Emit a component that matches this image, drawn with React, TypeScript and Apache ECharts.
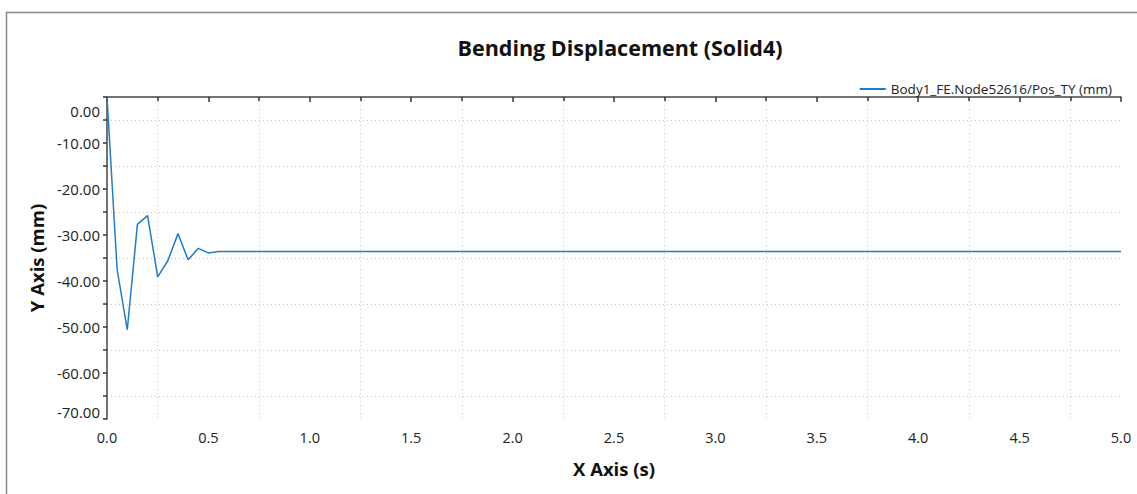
import React, { useEffect, useRef } from "react";
import * as echarts from "echarts";

const titleText = "Bending Displacement (Solid4)";
const seriesName = "Body1_FE.Node52616/Pos_TY (mm)";
const xAxisName = "X Axis (s)";
const yAxisName = "Y Axis (mm)";

// time (s) and displacement (mm); the signal stays flat after 0.55 s
const timeValues = [0, 0.05, 0.1, 0.15, 0.2, 0.25, 0.3, 0.35, 0.4, 0.45, 0.5, 0.55, 0.6, 5.0];
const dispValues = [0, -37.5, -50.6, -27.7, -25.8, -39.1, -35.6, -29.7, -35.4, -32.9, -33.9, -33.6, -33.6, -33.6];

const xMin = 0;
const xMax = 5;
const xInterval = 0.5;
const yMin = -70;
const yMax = 0;
const yInterval = 10;

const FONT = "'Open Sans', 'Noto Sans', sans-serif";
const LINE_COLOR = "#1f7bcc";

export default function App() {
  const ref = useRef<HTMLDivElement>(null);
  useEffect(() => {
    document.body.style.margin = "0";
    if (!ref.current) return;
    const chart = echarts.init(ref.current, undefined, { renderer: "svg" });
    const data = timeValues.map((t, i) => [t, dispValues[i]]);
    chart.setOption({
      animation: false,
      backgroundColor: "#ffffff",
      textStyle: { fontFamily: FONT },
      title: {
        text: titleText,
        left: 615,
        textAlign: "center",
        top: 31,
        textStyle: { fontFamily: FONT, fontSize: 21.5, fontWeight: "bold", color: "#111" },
      },
      legend: {
        right: 20,
        top: 77,
        itemWidth: 26,
        itemHeight: 2,
        itemGap: 10,
        textStyle: { fontFamily: FONT, fontSize: 13.5, color: "#222" },
        data: [{ name: seriesName, icon: "rect", itemStyle: { color: LINE_COLOR } }],
      },
      graphic: [
        {
          type: "rect",
          shape: { x: 6.5, y: 12.5, width: 1200, height: 600 },
          style: { fill: "none", stroke: "#8a8a8a", lineWidth: 1.5 },
          silent: true,
          z: -1,
        },
      ],
      grid: { left: 107, right: 16, top: 97, bottom: 75, containLabel: false },
      xAxis: {
        type: "value",
        min: xMin,
        max: xMax,
        interval: xInterval,
        name: xAxisName,
        nameLocation: "middle",
        nameGap: 40,
        nameTextStyle: { fontFamily: FONT, fontSize: 18.5, fontWeight: "bold", color: "#111" },
        axisLine: { show: true, lineStyle: { color: "#444", width: 1.5 } },
        axisTick: { show: true, length: 5, lineStyle: { color: "#333", width: 1.5 } },
        minorTick: { show: true, splitNumber: 2, length: 4, lineStyle: { color: "#333", width: 1.5 } },
        splitLine: { show: false },
        minorSplitLine: { show: true, lineStyle: { color: "#c8c8c8", type: [1, 3], width: 1 } },
        axisLabel: {
          formatter: (v: number) => v.toFixed(1),
          fontFamily: FONT,
          fontSize: 14.5,
          color: "#222",
          margin: 11,
          showMinLabel: true,
          showMaxLabel: true,
        },
      },
      yAxis: {
        type: "value",
        min: yMin,
        max: yMax,
        interval: yInterval,
        name: yAxisName,
        nameLocation: "middle",
        nameGap: 60,
        nameTextStyle: { fontFamily: FONT, fontSize: 18.5, fontWeight: "bold", color: "#111" },
        axisLine: { show: true, lineStyle: { color: "#444", width: 1.5 } },
        axisTick: { show: true, length: 4, lineStyle: { color: "#333", width: 1.5 } },
        minorTick: { show: true, splitNumber: 2, length: 4, lineStyle: { color: "#333", width: 1.5 } },
        splitLine: { show: false },
        minorSplitLine: { show: true, lineStyle: { color: "#c8c8c8", type: [1, 3], width: 1 } },
        axisLabel: {
          formatter: (v: number) => (v === yMax ? "{t|" + v.toFixed(2) + "}" : v.toFixed(2)),
          fontFamily: FONT,
          fontSize: 15,
          color: "#222",
          margin: 7,
          verticalAlignMaxLabel: "top",
          verticalAlignMinLabel: "bottom",
          rich: {
            t: { fontFamily: FONT, fontSize: 15, color: "#222", padding: [6, 0, 0, 0] },
          },
        },
      },
      series: [
        {
          name: seriesName,
          type: "line",
          data,
          symbol: "none",
          clip: true,
          lineStyle: { color: LINE_COLOR, width: 1.5 },
          itemStyle: { color: LINE_COLOR },
        },
      ],
    });
    return () => chart.dispose();
  }, []);
  return <div ref={ref} style={{ width: 1137, height: 494 }} />;
}
